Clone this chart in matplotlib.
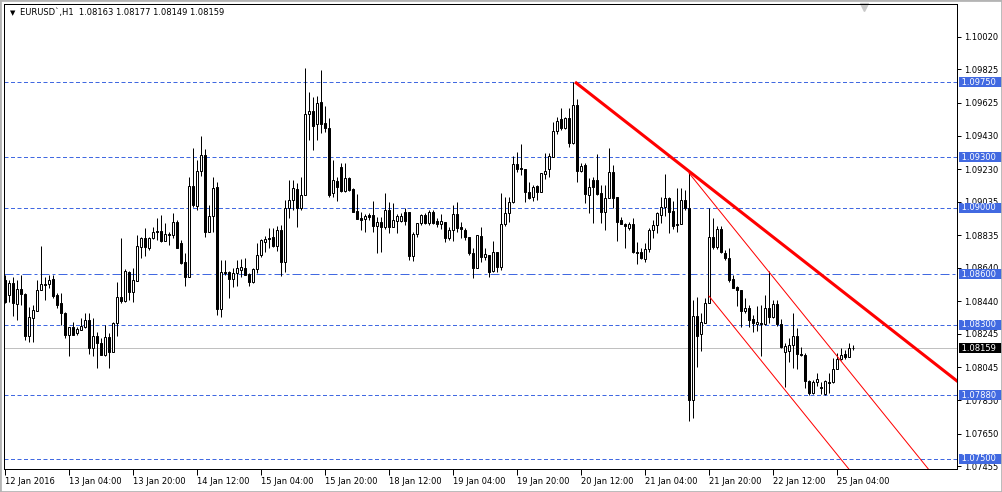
import matplotlib
matplotlib.use("Agg")
import matplotlib.pyplot as plt
import matplotlib.transforms as mtransforms
from matplotlib.patches import Rectangle
import numpy as np

plt.rcParams['font.family'] = ['DejaVu Sans']

# EURUSD H1 candles, 12 Jan 2016 -> 25 Jan 2016
opens = [
    1.08567, 1.08477, 1.08549, 1.08424, 1.08513, 1.08483, 1.08232, 1.08340, 1.08382, 1.08507,
    1.08543, 1.08543, 1.08573, 1.08477, 1.08430, 1.08370, 1.08238, 1.08286, 1.08250, 1.08268,
    1.08286, 1.08328, 1.08161, 1.08232, 1.08191, 1.08119, 1.08226, 1.08137, 1.08310, 1.08465,
    1.08442, 1.08615, 1.08495, 1.08561, 1.08764, 1.08818, 1.08758, 1.08818, 1.08860, 1.08860,
    1.08800, 1.08842, 1.08836, 1.08914, 1.08788, 1.08675, 1.08585, 1.09129, 1.09009, 1.09218,
    1.09314, 1.08854, 1.08949, 1.09123, 1.08394, 1.08615, 1.08615, 1.08573, 1.08609, 1.08627,
    1.08639, 1.08603, 1.08555, 1.08633, 1.08716, 1.08794, 1.08818, 1.08824, 1.08770, 1.08866,
    1.08675, 1.08997, 1.09045, 1.09111, 1.08997, 1.09075, 1.09559, 1.09577, 1.09499, 1.09631,
    1.09505, 1.09475, 1.09087, 1.09159, 1.09243, 1.09099, 1.09176, 1.09111, 1.08979, 1.08937,
    1.08932, 1.08955, 1.08955, 1.08890, 1.08914, 1.08884, 1.08985, 1.08884, 1.08920, 1.08920,
    1.08973, 1.08973, 1.08710, 1.08842, 1.08908, 1.08955, 1.08908, 1.08973, 1.08920, 1.08902,
    1.08914, 1.08818, 1.08866, 1.08961, 1.08884, 1.08866, 1.08824, 1.08728, 1.08639, 1.08830,
    1.08704, 1.08716, 1.08621, 1.08734, 1.08645, 1.08902, 1.08967, 1.09033, 1.09260, 1.09236,
    1.09230, 1.09093, 1.09063, 1.09129, 1.09093, 1.09200, 1.09230, 1.09302, 1.09457, 1.09529,
    1.09475, 1.09535, 1.09386, 1.09613, 1.09218, 1.09254, 1.09075, 1.09165, 1.09165, 1.09087,
    1.08973, 1.09057, 1.09212, 1.09063, 1.08926, 1.08902, 1.08878, 1.08902, 1.08734, 1.08734,
    1.08693, 1.08752, 1.08866, 1.08896, 1.08955, 1.09003, 1.09057, 1.08979, 1.08896, 1.08902,
    1.09045, 1.08997, 1.07848, 1.08352, 1.08244, 1.08310, 1.08430, 1.08824, 1.08764, 1.08872,
    1.08728, 1.08698, 1.08573, 1.08525, 1.08507, 1.08382, 1.08400, 1.08334, 1.08304, 1.08310,
    1.08304, 1.08400, 1.08346, 1.08424, 1.08304, 1.08137, 1.08143, 1.08179, 1.08232, 1.08125,
    1.08119, 1.07964, 1.07892, 1.07958, 1.07928, 1.07886, 1.07958, 1.07958, 1.08035, 1.08095,
    1.08125, 1.08107, 1.08163,
]
highs = [
    1.08597, 1.08567, 1.08585, 1.08567, 1.08597, 1.08489, 1.08406, 1.08418, 1.08567, 1.08770,
    1.08585, 1.08597, 1.08597, 1.08489, 1.08489, 1.08376, 1.08286, 1.08316, 1.08286, 1.08340,
    1.08370, 1.08370, 1.08340, 1.08256, 1.08220, 1.08298, 1.08250, 1.08316, 1.08555, 1.08818,
    1.08633, 1.08621, 1.08639, 1.08836, 1.08824, 1.08878, 1.08824, 1.08884, 1.08937, 1.08955,
    1.08908, 1.08854, 1.08967, 1.08926, 1.08806, 1.08728, 1.09182, 1.09356, 1.09284, 1.09427,
    1.09350, 1.09015, 1.09182, 1.09153, 1.08687, 1.08687, 1.08621, 1.08639, 1.08687, 1.08693,
    1.08698, 1.08609, 1.08639, 1.08788, 1.08812, 1.08830, 1.08878, 1.08878, 1.08890, 1.08896,
    1.09045, 1.09165, 1.09165, 1.09147, 1.09182, 1.09834, 1.09690, 1.09660, 1.09666, 1.09822,
    1.09607, 1.09535, 1.09284, 1.09182, 1.09266, 1.09266, 1.09182, 1.09117, 1.09081, 1.08973,
    1.08961, 1.08967, 1.09039, 1.08943, 1.08943, 1.09087, 1.09033, 1.09027, 1.08961, 1.08967,
    1.08997, 1.08973, 1.08854, 1.08908, 1.08961, 1.08967, 1.08985, 1.08985, 1.08937, 1.08961,
    1.08914, 1.08884, 1.09015, 1.09033, 1.08914, 1.08878, 1.08824, 1.08758, 1.08836, 1.08884,
    1.08758, 1.08716, 1.08800, 1.08734, 1.09087, 1.09063, 1.09063, 1.09308, 1.09332, 1.09380,
    1.09230, 1.09153, 1.09135, 1.09135, 1.09206, 1.09326, 1.09326, 1.09511, 1.09541, 1.09595,
    1.09541, 1.09595, 1.09750, 1.09649, 1.09266, 1.09266, 1.09176, 1.09182, 1.09320, 1.09135,
    1.09135, 1.09356, 1.09254, 1.09063, 1.08943, 1.08908, 1.08914, 1.08937, 1.08794, 1.08758,
    1.08788, 1.08878, 1.08926, 1.08973, 1.09063, 1.09200, 1.09063, 1.09039, 1.09117, 1.09117,
    1.09105, 1.09206, 1.08448, 1.08465, 1.08370, 1.08459, 1.08997, 1.08937, 1.08890, 1.08890,
    1.08746, 1.08758, 1.08597, 1.08531, 1.08507, 1.08459, 1.08418, 1.08358, 1.08412, 1.08418,
    1.08477, 1.08621, 1.08448, 1.08448, 1.08334, 1.08191, 1.08220, 1.08370, 1.08280, 1.08167,
    1.08131, 1.07970, 1.07970, 1.08011, 1.07958, 1.07970, 1.08011, 1.08101, 1.08131, 1.08161,
    1.08149, 1.08191, 1.08177,
]
lows = [
    1.08430, 1.08436, 1.08352, 1.08328, 1.08418, 1.08209, 1.08197, 1.08197, 1.08382, 1.08507,
    1.08448, 1.08519, 1.08459, 1.08400, 1.08298, 1.08220, 1.08111, 1.08238, 1.08238, 1.08268,
    1.08280, 1.08125, 1.08111, 1.08041, 1.08119, 1.08111, 1.08041, 1.08137, 1.08232, 1.08430,
    1.08436, 1.08448, 1.08436, 1.08561, 1.08698, 1.08710, 1.08746, 1.08812, 1.08806, 1.08794,
    1.08800, 1.08776, 1.08818, 1.08758, 1.08663, 1.08531, 1.08585, 1.09003, 1.08985, 1.09188,
    1.08824, 1.08854, 1.08854, 1.08358, 1.08346, 1.08597, 1.08459, 1.08525, 1.08531, 1.08585,
    1.08597, 1.08531, 1.08549, 1.08609, 1.08704, 1.08734, 1.08758, 1.08764, 1.08740, 1.08591,
    1.08615, 1.08937, 1.08985, 1.08884, 1.08985, 1.09075, 1.09404, 1.09344, 1.09404, 1.09445,
    1.09451, 1.09063, 1.09063, 1.09039, 1.09093, 1.09093, 1.09099, 1.08973, 1.08932, 1.08866,
    1.08854, 1.08926, 1.08854, 1.08728, 1.08734, 1.08872, 1.08848, 1.08884, 1.08848, 1.08914,
    1.08896, 1.08687, 1.08681, 1.08824, 1.08896, 1.08902, 1.08896, 1.08902, 1.08884, 1.08872,
    1.08794, 1.08806, 1.08800, 1.08854, 1.08818, 1.08806, 1.08716, 1.08579, 1.08639, 1.08675,
    1.08687, 1.08585, 1.08615, 1.08615, 1.08627, 1.08890, 1.08914, 1.09027, 1.09212, 1.09194,
    1.09033, 1.09051, 1.09039, 1.09045, 1.09093, 1.09171, 1.09182, 1.09302, 1.09439, 1.09463,
    1.09469, 1.09362, 1.09380, 1.09153, 1.09212, 1.09027, 1.08967, 1.08908, 1.09075, 1.08908,
    1.08866, 1.09057, 1.08997, 1.08800, 1.08902, 1.08758, 1.08866, 1.08728, 1.08663, 1.08693,
    1.08675, 1.08734, 1.08818, 1.08848, 1.08908, 1.08949, 1.08848, 1.08872, 1.08854, 1.08902,
    1.08985, 1.07723, 1.07740, 1.08047, 1.08143, 1.08310, 1.08430, 1.08752, 1.08752, 1.08728,
    1.08687, 1.08555, 1.08519, 1.08412, 1.08286, 1.08370, 1.08286, 1.08256, 1.08262, 1.08113,
    1.08298, 1.08310, 1.08340, 1.08292, 1.08161, 1.07928, 1.08077, 1.08041, 1.08035, 1.08111,
    1.07922, 1.07880, 1.07886, 1.07934, 1.07886, 1.07880, 1.07892, 1.07952, 1.08035, 1.08089,
    1.08095, 1.08107, 1.08149,
]
closes = [
    1.08436, 1.08549, 1.08430, 1.08513, 1.08483, 1.08232, 1.08346, 1.08388, 1.08507, 1.08543,
    1.08537, 1.08567, 1.08471, 1.08418, 1.08370, 1.08238, 1.08286, 1.08238, 1.08274, 1.08292,
    1.08328, 1.08161, 1.08232, 1.08191, 1.08119, 1.08226, 1.08137, 1.08310, 1.08465, 1.08442,
    1.08621, 1.08495, 1.08567, 1.08770, 1.08818, 1.08764, 1.08818, 1.08854, 1.08854, 1.08800,
    1.08842, 1.08836, 1.08914, 1.08758, 1.08669, 1.08585, 1.09129, 1.09015, 1.09218, 1.09314,
    1.08854, 1.08949, 1.09117, 1.08394, 1.08615, 1.08609, 1.08573, 1.08609, 1.08639, 1.08645,
    1.08597, 1.08555, 1.08633, 1.08716, 1.08806, 1.08812, 1.08812, 1.08770, 1.08866, 1.08675,
    1.08997, 1.09045, 1.09117, 1.08997, 1.09075, 1.09559, 1.09577, 1.09487, 1.09625, 1.09499,
    1.09475, 1.09075, 1.09165, 1.09123, 1.09099, 1.09176, 1.09105, 1.08973, 1.08932, 1.08926,
    1.08949, 1.08943, 1.08890, 1.08914, 1.08884, 1.08985, 1.08884, 1.08926, 1.08949, 1.08949,
    1.08920, 1.08710, 1.08842, 1.08908, 1.08955, 1.08908, 1.08973, 1.08908, 1.08902, 1.08920,
    1.08818, 1.08866, 1.08961, 1.08878, 1.08872, 1.08824, 1.08728, 1.08639, 1.08836, 1.08704,
    1.08722, 1.08615, 1.08734, 1.08645, 1.08902, 1.08967, 1.09033, 1.09260, 1.09230, 1.09230,
    1.09093, 1.09057, 1.09123, 1.09093, 1.09206, 1.09218, 1.09308, 1.09457, 1.09517, 1.09475,
    1.09535, 1.09386, 1.09613, 1.09218, 1.09248, 1.09081, 1.09123, 1.09123, 1.09081, 1.08973,
    1.09057, 1.09212, 1.09057, 1.08914, 1.08902, 1.08890, 1.08902, 1.08734, 1.08728, 1.08698,
    1.08752, 1.08866, 1.08896, 1.08967, 1.09003, 1.09057, 1.08973, 1.08890, 1.08902, 1.09045,
    1.08997, 1.07848, 1.08352, 1.08232, 1.08316, 1.08430, 1.08824, 1.08764, 1.08872, 1.08734,
    1.08698, 1.08567, 1.08519, 1.08507, 1.08382, 1.08400, 1.08328, 1.08310, 1.08316, 1.08304,
    1.08400, 1.08346, 1.08424, 1.08304, 1.08167, 1.08173, 1.08179, 1.08232, 1.08125, 1.08119,
    1.07964, 1.07892, 1.07958, 1.07976, 1.07922, 1.07964, 1.07952, 1.08035, 1.08095, 1.08119,
    1.08107, 1.08161, 1.08159,
]

time_labels = ["12 Jan 2016", "13 Jan 04:00", "13 Jan 20:00", "14 Jan 12:00", "15 Jan 04:00",
               "15 Jan 20:00", "18 Jan 12:00", "19 Jan 04:00", "19 Jan 20:00", "20 Jan 12:00",
               "21 Jan 04:00", "21 Jan 20:00", "22 Jan 12:00", "25 Jan 04:00"]
bars_per_label = 16
price_ticks = [1.10020, 1.09825, 1.09625, 1.09430, 1.09230, 1.09035, 1.08835,
               1.08640, 1.08440, 1.08245, 1.08045, 1.07850, 1.07650, 1.07455]

# horizontal levels drawn on the chart
levels = [1.09750, 1.09300, 1.09000, 1.08600, 1.08300, 1.07880, 1.07500]
level_dashdot = [False, False, False, True, False, False, False]
bid = 1.08159
header = "EURUSD`,H1  1.08163 1.08177 1.08149 1.08159"

# trend line anchors (bar index, price)
trend_main = ([142.5, 171], [1.09750, 1.09217])
channel_top = ([171, 191], [1.09206, 1.08615])
channel_bottom_start = (176, 1.08471)

BLUE = '#4169e1'
PX = 0.72  # one pixel in points at 100 dpi

fig = plt.figure(figsize=(10.02, 4.92), dpi=100)
ax = fig.add_axes([4 / 1002, 23 / 492, 953 / 1002, 465 / 492])
n = len(closes)
x = np.arange(n)
x_right = 238
ax.set_xlim(-0.25, x_right)
ax.set_ylim(1.07438, 1.10216)

# levels + bid line
for lv, dd in zip(levels, level_dashdot):
    ls = (0, (9, 3, 3, 3)) if dd else (0, (4, 2.5))
    ax.axhline(lv, color=BLUE, lw=PX, ls=ls, zorder=1)
ax.axhline(bid, color='#c0c0c0', lw=PX, zorder=1)

# candles
o = np.array(opens)
c = np.array(closes)
ax.vlines(x, lows, highs, color='black', lw=PX, zorder=2)
up = c >= o
ax.bar(x, np.abs(c - o), bottom=np.minimum(o, c), width=0.5,
       color=np.where(up, 'white', 'black'), edgecolor='black', linewidth=PX, zorder=3)


def ray(xs, ys, slope=None, **kw):
    if slope is None:
        slope = (ys[1] - ys[0]) / (xs[1] - xs[0])
    x_end = x_right + 5
    ax.plot([xs[0], x_end], [ys[0], ys[0] + slope * (x_end - xs[0])], **kw)
    return slope


ray(*trend_main, color='red', lw=2.2, zorder=4, solid_capstyle='butt')
s = ray(*channel_top, color='red', lw=PX, zorder=4)
ray([channel_bottom_start[0]], [channel_bottom_start[1]], slope=s, color='red', lw=PX, zorder=4)

# axes / ticks
ax.yaxis.tick_right()
ax.set_yticks(price_ticks)
ax.set_yticklabels([f"{p:.5f}" for p in price_ticks])
ax.tick_params(axis='y', direction='out', length=3, width=PX, pad=2, labelsize=6)
ax.set_xticks(np.arange(len(time_labels)) * bars_per_label)
ax.set_xticklabels(time_labels, ha='left')
ax.tick_params(axis='x', direction='out', length=4, width=PX, pad=1.5, labelsize=6)
for sp in ax.spines.values():
    sp.set_linewidth(PX)

# price boxes on the right scale (cover the scale labels underneath, as in the terminal)
lab_tf = mtransforms.offset_copy(ax.get_yaxis_transform(), fig=fig, x=2, y=0, units='dots')
for lv in levels:
    ax.text(1.0, lv, f" {lv:.5f}  ", transform=lab_tf, ha='left', va='center', color='white',
            fontsize=6, zorder=6, clip_on=False,
            bbox=dict(boxstyle='square,pad=0.06', fc=BLUE, ec='none'))
ax.text(1.0, bid, f" {bid:.5f}  ", transform=lab_tf, ha='left', va='center', color='white',
        fontsize=6, zorder=6, clip_on=False,
        bbox=dict(boxstyle='square,pad=0.06', fc='black', ec='none'))

# header
ax.text(0.0089, 0.9813, "▼", transform=ax.transAxes, ha='center', va='center', fontsize=5)
ax.text(0.0168, 0.9813, header, transform=ax.transAxes, ha='left', va='center', fontsize=6)

# chart shift marker
ax.plot([n + 1.75], [0.993], marker='v', ms=6, color='#c8c8c8',
        transform=ax.get_xaxis_transform(), clip_on=False)

fig.patches.append(Rectangle((0, 0), 1, 1, transform=fig.transFigure, fill=False,
                             ec='#b4b4b4', lw=2))

fig.savefig('out.png', dpi=100)
